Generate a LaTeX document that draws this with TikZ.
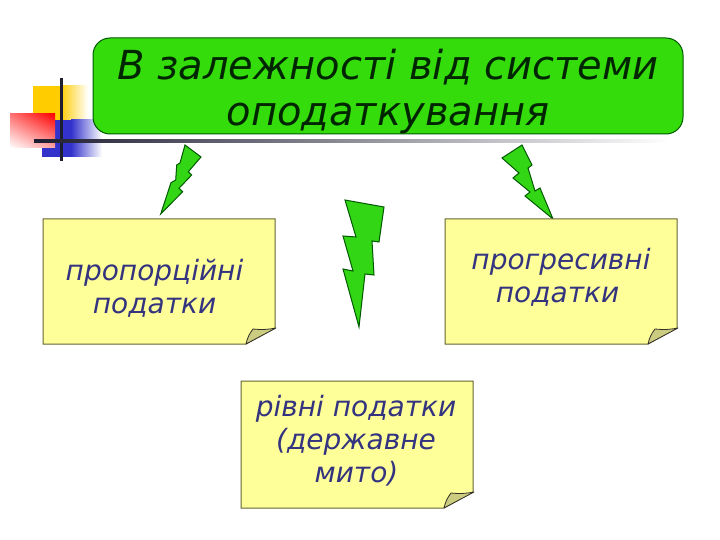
\documentclass[tikz,border=0pt]{standalone}
\usepackage{fontspec}
\setmainfont{DejaVu Sans}
\usetikzlibrary{shadings}
\definecolor{titlegreen}{RGB}{51,220,10}
\definecolor{boltgreen}{RGB}{51,214,20}
\definecolor{notefill}{RGB}{255,255,153}
\definecolor{noteline}{RGB}{100,100,50}
\definecolor{foldfill}{RGB}{204,204,128}
\definecolor{notetext}{RGB}{51,51,128}
\definecolor{squareyellow}{RGB}{255,204,0}
\definecolor{squareblue}{RGB}{51,51,204}
\definecolor{bardark}{RGB}{30,30,50}
\tikzset{
	notebox/.style={fill=notefill,draw=noteline,line width=1pt},
	notefold/.style={fill=foldfill,draw=black!85!olive,line width=.8pt,line join=round},
	notelabel/.style={text=notetext,font=\fontsize{28}{33}\selectfont\itshape,align=center,inner sep=0pt},
	bolt/.style={fill=boltgreen,draw=black!65!green,line width=1pt,line join=miter}
}
\begin{document}
\begin{tikzpicture}[x=1pt,y=-1pt]
	\useasboundingbox (0,0) rectangle (720,540);
	% squares
	\fill[squareyellow] (33,86) rectangle (60,120);
	\shade[left color=squareyellow,right color=white] (60,86) rectangle (88,120);
	\fill[squareblue] (42,120) rectangle (71,157);
	\shade[left color=squareblue,right color=white] (71,120) rectangle (102,157);
	\shade[shading=bilinear interpolation,lower left=white,upper left=red!55,upper right=red,lower right=red!35] (10,114) rectangle (55,148);
	\fill[bardark] (60,78) rectangle (62.5,161);
	\shade[left color=bardark,right color=white] (34,140) rectangle (670,143);
	% title
	\node[draw=black!65!green,fill=titlegreen,line width=1pt,rounded corners=17pt,minimum width=590pt,minimum height=96pt] (title) at (388,86) {};
	\node[inner sep=0pt,align=center,font=\fontsize{40}{46}\selectfont\itshape,text=black!85!green] (titletext) at (388,91) {В залежності від системи\\оподаткування};
	% bolts
	\draw[bolt] (185,145)--(201,157)--(188.3,171.7)--(191.7,175)--(179,188.3)--(182.7,191.7)--(160.7,214)--(171,182.7)--(175.7,180)--(176.7,165)--(180,163)--cycle;
	\draw[bolt] (345,200)--(384,207)--(379,242)--(372,241)--(374,275)--(365,274)--(359,327)--(343,269)--(353,271)--(343,236)--(356,237)--cycle;
	\draw[bolt] (522,145)--(502,158)--(519,173)--(513,178)--(530,192)--(525,196)--(553,219)--(540,188)--(535,191)--(528,168)--(532,165)--cycle;
	% notes
	\draw[notebox] (43,219)--(275,219)--(275,328)--(246,344)--(43,344)--cycle;
	\draw[notefold] (246,344) to[bend left=12] (253,329) to[bend right=8] (276,328) to (246,344);
	\node[notelabel] (prop) at (154.5,288) {пропорційні\\податки};
	\draw[notebox] (445,219)--(677,219)--(677,328)--(648,344)--(445,344)--cycle;
	\draw[notefold] (648,344) to[bend left=12] (655,329) to[bend right=8] (678,328) to (648,344);
	\node[notelabel] (prog) at (561,277.5) {прогресивні\\податки\hspace*{7pt}};
	\draw[notebox] (241,381)--(473,381)--(473,492)--(444,508)--(241,508)--cycle;
	\draw[notefold] (444,508) to[bend left=12] (451,493) to[bend right=8] (474,492) to (444,508);
	\node[notelabel] (rivni) at (356,440.5) {рівні податки\\(державне\hspace*{8pt}\\\hspace*{1pt}мито)};
\end{tikzpicture}
\end{document}
